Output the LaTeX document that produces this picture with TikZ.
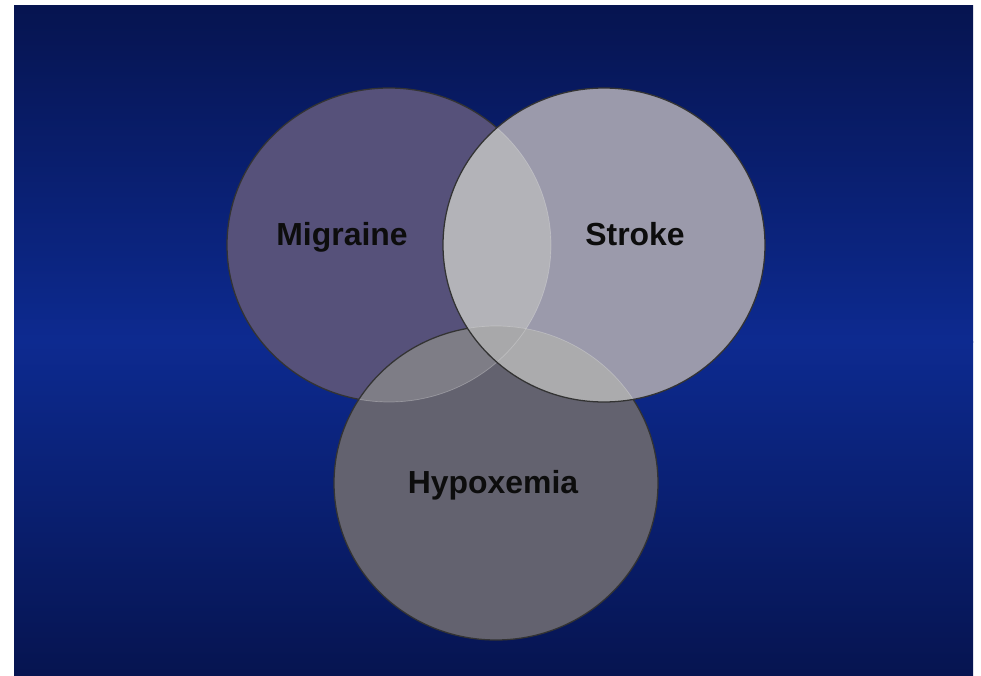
\documentclass[tikz,border=0pt]{standalone}
\usepackage{fontspec}
\setsansfont{Liberation Sans}
\usepackage{xcolor}

\definecolor{bgdark}{HTML}{061450}
\definecolor{bgmid}{HTML}{0D2A90}
\definecolor{migfill}{HTML}{56517A}
\definecolor{hypfill}{HTML}{63626F}
\definecolor{strfill}{HTML}{9B9AAB}
\definecolor{mighyp}{HTML}{7E7D86}
\definecolor{migstr}{HTML}{B3B3B8}
\definecolor{strhyp}{HTML}{ABABAD}
\definecolor{allthree}{HTML}{A8A8AA}

% the three sets
\def\migraineset{(389,245) ellipse [x radius=162, y radius=157]}
\def\strokeset{(604,245) ellipse [x radius=161, y radius=157]}
\def\hypoxset{(496,483) ellipse [x radius=162, y radius=157]}

\begin{document}
\begin{tikzpicture}[
    x=0.025cm, y=-0.025cm,
    font=\sffamily\bfseries\fontsize{22.7}{26}\selectfont,
    edge/.style={draw=black!80, line width=0.9pt},
    faint/.style={draw=white!85!gray, line width=0.5pt, opacity=0.3},
    lbl/.style={anchor=base, text=black!95, inner sep=0pt}
  ]
  \useasboundingbox (0,0) rectangle (981,676);
  \fill[white] (0,0) rectangle (981,676);
  % background, darker at top and bottom
  \shade[top color=bgdark, bottom color=bgmid] (14,6) rectangle (973,342);
  \shade[top color=bgmid, bottom color=bgdark] (14,341) rectangle (973,676);

  % migraine
  \fill[migfill] \migraineset;
  \draw[edge] \migraineset;

  % hypoxemia
  \fill[hypfill] \hypoxset;
  \begin{scope}
    \clip \hypoxset;
    \fill[mighyp] \migraineset;
    \draw[faint] \migraineset;
  \end{scope}
  \draw[edge] \hypoxset;

  % stroke
  \fill[strfill] \strokeset;
  \begin{scope}
    \clip \strokeset;
    \fill[migstr] \migraineset;
    \fill[strhyp] \hypoxset;
    \begin{scope}
      \clip \migraineset;
      \fill[allthree] \hypoxset;
    \end{scope}
    \draw[faint] \migraineset;
    \draw[faint] \hypoxset;
  \end{scope}
  \draw[edge] \strokeset;

  \node[lbl] (migraine) at (342,246) {Migraine};
  \node[lbl] (stroke) at (635,246) {Stroke};
  \node[lbl] (hypoxemia) at (493,493) {Hypoxemia};
\end{tikzpicture}
\end{document}
